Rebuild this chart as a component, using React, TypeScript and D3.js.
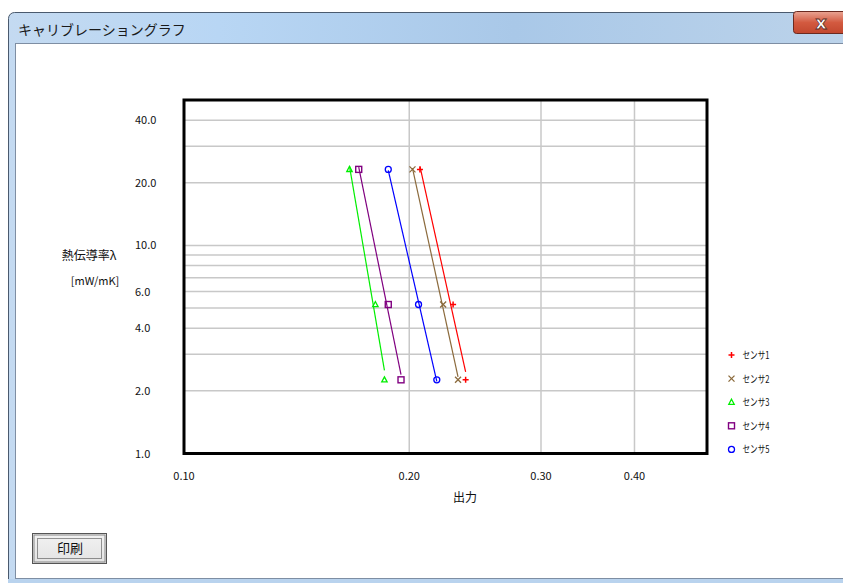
import React, { useEffect } from "react";
import * as d3 from "d3";

// 熱伝導率 (y) のサンプル点
const conductivity = [23.2, 5.2, 2.26];

// 各センサの出力値
const sensorNames = ["センサ1", "センサ2", "センサ3", "センサ4", "センサ5"];
const sensor1 = [0.2067, 0.2289, 0.2379];
const sensor2 = [0.202, 0.222, 0.2324];
const sensor3 = [0.1664, 0.1802, 0.1853];
const sensor4 = [0.1712, 0.1875, 0.195];
const sensor5 = [0.1875, 0.2058, 0.2177];

const yTicks = [1, 2, 4, 6, 10, 20, 40];
const yGrid = [2, 3, 4, 5, 6, 7, 8, 9, 10, 20, 30, 40];
const xTicks = [0.1, 0.2, 0.3, 0.4];
const xGrid = [0.2, 0.3, 0.4];

const colors = ["#ff0000", "#8b6a3c", "#00ee00", "#800080", "#0000ff"];
const shapes = ["plus", "cross", "triangle", "square", "circle"];

const FONT = "'Noto Sans CJK JP', 'Liberation Sans', sans-serif";

const W = 843;
const H = 583;
const plot = { left: 184, right: 707, top: 100, bottom: 453.5 };

const x = d3.scaleLog().domain([0.1, 0.5]).range([plot.left, plot.right]);
const y = d3.scaleLog().domain([1, 50]).range([plot.bottom, plot.top]);

// 両対数での最小二乗直線
function fitLine(xs: number[], ys: number[]) {
  const lx = xs.map(Math.log10);
  const ly = ys.map(Math.log10);
  const mx = d3.mean(lx)!;
  const my = d3.mean(ly)!;
  let sxy = 0;
  let sxx = 0;
  lx.forEach((v, i) => {
    sxy += (v - mx) * (ly[i] - my);
    sxx += (v - mx) * (v - mx);
  });
  const slope = sxy / sxx;
  const f = (v: number) => Math.pow(10, my + slope * (Math.log10(v) - mx));
  const x0 = d3.min(xs)!;
  const x1 = d3.max(xs)!;
  return [
    [x0, f(x0)],
    [x1, f(x1)],
  ];
}

function Marker({ shape, cx, cy, color }: { shape: string; cx: number; cy: number; color: string }) {
  const s = 3;
  if (shape === "plus")
    return (
      <path d={`M${cx - s},${cy}H${cx + s}M${cx},${cy - s}V${cy + s}`} stroke={color} strokeWidth={1.5} fill="none" />
    );
  if (shape === "cross")
    return (
      <path
        d={`M${cx - s},${cy - s}L${cx + s},${cy + s}M${cx - s},${cy + s}L${cx + s},${cy - s}`}
        stroke={color}
        strokeWidth={1.3}
        fill="none"
      />
    );
  if (shape === "triangle")
    return (
      <path
        d={`M${cx},${cy - s}L${cx + s * 0.9},${cy + s * 0.7}L${cx - s * 0.9},${cy + s * 0.7}Z`}
        stroke={color}
        strokeWidth={1.3}
        fill="none"
      />
    );
  if (shape === "square")
    return <rect x={cx - s} y={cy - s} width={s * 2} height={s * 2} stroke={color} strokeWidth={1.4} fill="none" />;
  return <circle cx={cx} cy={cy} r={s} stroke={color} strokeWidth={1.3} fill="none" />;
}

export default function App() {
  useEffect(() => {
    document.body.style.margin = "0";
  }, []);

  const series = [sensor1, sensor2, sensor3, sensor4, sensor5];
  const line = d3
    .line<number[]>()
    .x((d) => x(d[0]))
    .y((d) => y(d[1]));

  return (
    <svg width={W} height={H} style={{ display: "block", fontFamily: FONT }}>
      <defs>
        <linearGradient id="titleGrad" x1="0" y1="0" x2="1" y2="0">
          <stop offset="0" stopColor="#c4daf1" />
          <stop offset="0.25" stopColor="#b8d6f4" />
          <stop offset="0.6" stopColor="#a9c8e8" />
          <stop offset="1" stopColor="#bcd3ea" />
        </linearGradient>
        <linearGradient id="closeGrad" x1="0" y1="0" x2="0" y2="1">
          <stop offset="0" stopColor="#e9a493" />
          <stop offset="0.5" stopColor="#d35a40" />
          <stop offset="1" stopColor="#c2472e" />
        </linearGradient>
        <linearGradient id="btnGrad" x1="0" y1="0" x2="0" y2="1">
          <stop offset="0" stopColor="#f2f2f2" />
          <stop offset="1" stopColor="#e3e3e3" />
        </linearGradient>
      </defs>

      {/* window chrome */}
      <rect x={0} y={0} width={W} height={H} fill="#ffffff" />
      <rect x={8.5} y={12.5} width={W} height={H} rx={6} fill="url(#titleGrad)" stroke="#4a5a6e" />
      <rect x={15.5} y={43.5} width={W} height={535} fill="#ffffff" stroke="#7e8ea3" />
      <rect x={8} y={579} width={W} height={4} fill="#b9d3ee" />
      <text x={18} y={35} fontSize={14} fill="#1a1a1a">
        キャリブレーショングラフ
      </text>
      <rect x={793.5} y={11.5} width={60} height={22} rx={3} fill="url(#closeGrad)" stroke="#6b2a20" />
      <text
        x={821}
        y={29}
        fontSize={18}
        fontWeight="bold"
        fill="#ffffff"
        stroke="#5a2a22"
        strokeWidth={0.8}
        textAnchor="middle"
        fontFamily="'DejaVu Sans', sans-serif"
      >
        x
      </text>

      {/* grid */}
      {yGrid.map((v) => (
        <line key={`yg${v}`} x1={plot.left} x2={plot.right} y1={y(v)} y2={y(v)} stroke="#c8c8c8" strokeWidth={1.5} />
      ))}
      {xGrid.map((v) => (
        <line key={`xg${v}`} x1={x(v)} x2={x(v)} y1={plot.top} y2={plot.bottom} stroke="#c8c8c8" strokeWidth={1.5} />
      ))}

      {/* plot frame */}
      <rect
        x={plot.left}
        y={plot.top}
        width={plot.right - plot.left}
        height={plot.bottom - plot.top}
        fill="none"
        stroke="#000000"
        strokeWidth={3}
      />

      {/* y ticks */}
      {yTicks.map((v) => (
        <text key={`yt${v}`} x={135} y={y(v) + 4} fontSize={11} fill="#111">
          {v.toFixed(1)}
        </text>
      ))}
      {/* x ticks */}
      {xTicks.map((v) => (
        <text key={`xt${v}`} x={x(v)} y={480} fontSize={11} fill="#111" textAnchor="middle">
          {v.toFixed(2)}
        </text>
      ))}

      {/* axis titles */}
      <text x={89} y={260} fontSize={12} fill="#111" textAnchor="middle">
        熱伝導率λ
      </text>
      <text x={95} y={285} fontSize={11} fill="#111" textAnchor="middle">
        [mW/mK]
      </text>
      <text x={465} y={502} fontSize={12} fill="#111" textAnchor="middle">
        出力
      </text>

      {/* fitted lines and markers */}
      {series.map((xs, i) => (
        <g key={`s${i}`}>
          <path d={line(fitLine(xs, conductivity))!} stroke={colors[i]} strokeWidth={1.2} fill="none" />
          {xs.map((xv, j) => (
            <Marker key={j} shape={shapes[i]} cx={x(xv)} cy={y(conductivity[j])} color={colors[i]} />
          ))}
        </g>
      ))}

      {/* legend */}
      {sensorNames.map((name, i) => (
        <g key={name} transform={`translate(731.5, ${355 + i * 23.6})`}>
          <Marker shape={shapes[i]} cx={0} cy={0} color={colors[i]} />
          <text x={11} y={4} fontSize={10.5} fill="#111" textLength={27} lengthAdjust="spacingAndGlyphs">
            {name}
          </text>
        </g>
      ))}

      {/* print button */}
      <rect x={32.5} y={533.5} width={74} height={30} fill="url(#btnGrad)" stroke="#555" />
      <rect x={34} y={535} width={71} height={27} fill="none" stroke="#888" />
      <rect x={37.5} y={538.5} width={64} height={20} fill="none" stroke="#333" strokeDasharray="1,1" />
      <text x={70} y={553} fontSize={13} fill="#111" textAnchor="middle">
        印刷
      </text>
    </svg>
  );
}
